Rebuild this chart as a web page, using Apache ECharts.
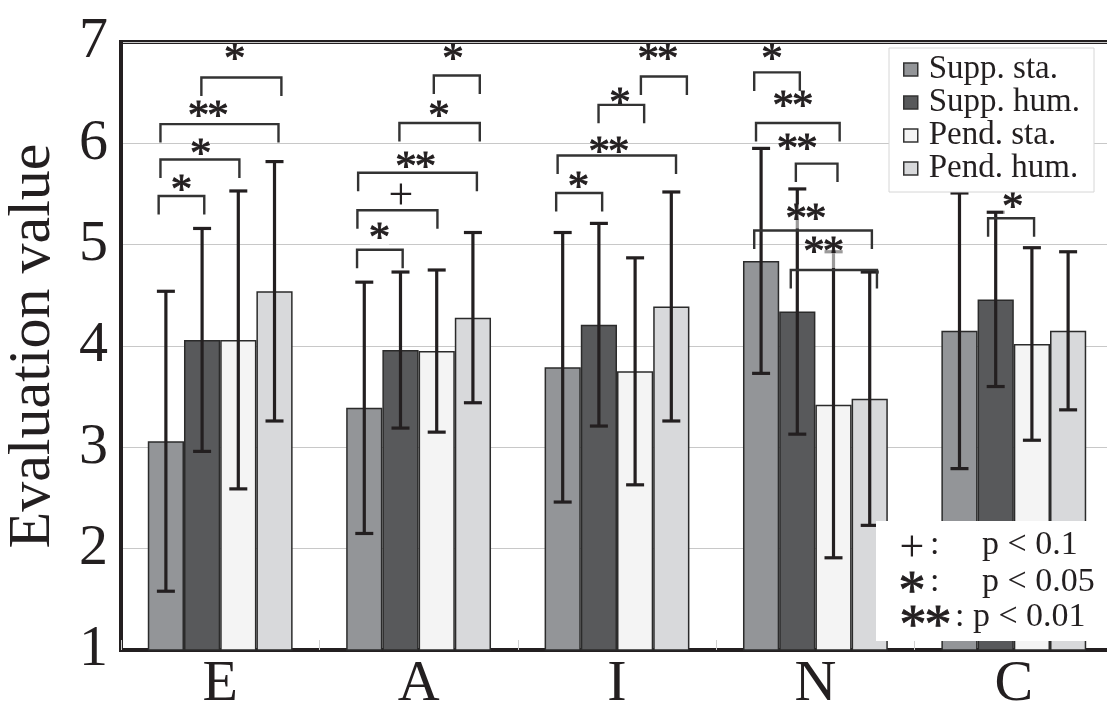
<!DOCTYPE html>
<html>
<head>
<meta charset="utf-8">
<title>Evaluation value</title>
<script src="https://cdn.jsdelivr.net/npm/echarts@6/dist/echarts.min.js"></script>
<style>
html, body { margin:0; padding:0; background:#fff; }
#chart { width:1107px; height:704px; }
</style>
</head>
<body>
<div id="chart"></div>
<script>
var categories = ['E', 'A', 'I', 'N', 'C'];
var seriesNames = ['Supp. sta.', 'Supp. hum.', 'Pend. sta.', 'Pend. hum.'];

// means
var suppSta = [3.06, 3.39, 3.79, 4.84, 4.15];
var suppHum = [4.06, 3.96, 4.21, 4.34, 4.46];
var pendSta = [4.06, 3.95, 3.75, 3.42, 4.02];
var pendHum = [4.54, 4.28, 4.39, 3.48, 4.15];

// standard deviations
var suppStaSd = [1.48, 1.24, 1.33, 1.11, 1.36];
var suppHumSd = [1.10, 0.77, 1.00, 1.21, 0.86];
var pendStaSd = [1.47, 0.80, 1.12, 1.51, 0.95];
var pendHumSd = [1.28, 0.84, 1.13, 1.25, 0.78];

var yMin = 1, yMax = 7, yStep = 1;

// significance brackets
// [category, from bar, to bar, bracket height, mark, mark pos, mark height]
var brackets = [
  [0, -0.20, 1.06, 5.48, '*',  0.43, 5.61],
  [0, -0.15, 2.03, 5.84, '*',  0.96, 5.96],
  [0, -0.15, 3.11, 6.19, '**', 1.17, 6.34],
  [0,  0.98, 3.19, 6.65, '*',  1.90, 6.90],
  [1, -0.20, 1.06, 4.95, '*',  0.42, 5.13],
  [1, -0.19, 2.02, 5.34, '+',  1.01, 5.51],
  [1, -0.17, 3.11, 5.71, '**', 1.42, 5.83],
  [1,  0.97, 3.19, 6.20, '*',  2.06, 6.34],
  [1,  1.92, 3.19, 6.67, '*',  2.45, 6.90],
  [2, -0.18, 1.09, 5.51, '*',  0.44, 5.64],
  [2, -0.14, 3.13, 5.88, '**', 1.28, 5.98],
  [2,  0.99, 2.25, 6.38, '*',  1.58, 6.47],
  [2,  2.16, 3.43, 6.66, '**', 2.63, 6.90],
  [3, -0.19, 1.07, 6.70, '*',  0.30, 6.90],
  [3, -0.14, 2.17, 6.20, '**', 0.88, 6.44],
  [3,  0.96, 2.11, 5.80, '**', 1.00, 6.01],
  [3, -0.19, 3.06, 5.14, '**', 1.24, 5.32],
  [3,  0.82, 3.20, 4.75, '**', 1.73, 5.00],
  [4,  0.79, 2.06, 5.26, '*',  1.47, 5.44]
];

var means = [suppSta, suppHum, pendSta, pendHum];
var sds = [suppStaSd, suppHumSd, pendStaSd, pendHumSd];
var colors = ['#939598', '#58595b', '#f4f4f4', '#d8d9db'];
var INK = '#231f20';
var SERIF = '"Liberation Serif", "Times New Roman", serif';
var CAT_GAP = 0.27;

function barOffset(api, pos) {
  var bw = api.size([1, 0])[0];
  return (pos - 1.5) * bw * (1 - CAT_GAP) / 4;
}

// one text per glyph so the star spacing can be tightened
function markTexts(mark, x, y, size, step, z) {
  var out = [];
  var n = mark.length;
  for (var k = 0; k < n; k++) {
    var ch = mark.charAt(k);
    var dy = ch === '+' ? 0.09 * size : 0.2 * size;
    out.push({
      type: 'text', x: x + (k - (n - 1) / 2) * step, y: y + dy, z: z,
      style: {
        text: ch, fontSize: size, fontFamily: SERIF, fill: INK,
        stroke: ch === '*' ? INK : null, lineWidth: 0.9,
        align: 'center', verticalAlign: 'middle'
      }
    });
  }
  return out;
}

var errData = [];
means.forEach(function (m, s) {
  m.forEach(function (v, c) {
    errData.push([c, s, v - sds[s][c], v + sds[s][c]]);
  });
});

var series = means.map(function (d, i) {
  return {
    name: seriesNames[i],
    type: 'bar',
    data: d,
    barGap: '0%',
    barCategoryGap: (CAT_GAP * 100) + '%',
    itemStyle: { color: colors[i], borderColor: '#2b2b2b', borderWidth: 1.5 },
    z: 2
  };
});

series.push({
  type: 'custom',
  data: errData,
  encode: { x: 0, y: [2, 3] },
  z: 3,
  silent: true,
  renderItem: function (params, api) {
    var c = api.value(0);
    var x = api.coord([c, 0])[0] + barOffset(api, api.value(1));
    var lo = api.coord([c, api.value(2)])[1];
    var hi = api.coord([c, api.value(3)])[1];
    var cap = 9;
    var st = { stroke: INK, lineWidth: 3.2 };
    return {
      type: 'group',
      children: [
        { type: 'line', shape: { x1: x, y1: hi, x2: x, y2: lo }, style: st },
        { type: 'line', shape: { x1: x - cap, y1: hi, x2: x + cap, y2: hi }, style: st },
        { type: 'line', shape: { x1: x - cap, y1: lo, x2: x + cap, y2: lo }, style: st }
      ]
    };
  }
});

series.push({
  type: 'custom',
  data: brackets.map(function (b) { return [b[0], b[1], b[2], b[3], b[5], b[6]]; }),
  encode: { x: 0, y: 3 },
  z: 4,
  silent: true,
  renderItem: function (params, api) {
    var c = api.value(0);
    var cx = api.coord([c, 0])[0];
    var x1 = cx + barOffset(api, api.value(1));
    var x2 = cx + barOffset(api, api.value(2));
    var y = api.coord([c, api.value(3)])[1];
    var lx = cx + barOffset(api, api.value(4));
    var ly = api.coord([c, api.value(5)])[1];
    var mark = brackets[params.dataIndex][4];
    var drop = 18.5;
    var w = mark.length * 19;
    var kids = [
      { type: 'polyline', shape: { points: [[x1, y + drop], [x1, y], [x2, y], [x2, y + drop]] },
        style: { stroke: '#333', lineWidth: 2.4, fill: null } },
      { type: 'rect', shape: { x: lx - w / 2, y: ly - 8, width: w, height: y - ly + 6 },
        style: { fill: 'rgba(255,255,255,0.55)' } }
    ];
    var size = mark === '+' ? 44 : 43;
    return { type: 'group', children: kids.concat(markTexts(mark, lx, ly, size, 19.5)) };
  }
});

var chart = echarts.init(document.getElementById('chart'), null, { renderer: 'canvas' });

var option = {
  animation: false,
  textStyle: { fontFamily: SERIF },
  grid: {
    left: 121, right: -6, top: 42, bottom: 54,
    outerBoundsMode: 'none',
    containLabel: false,
    show: true, borderColor: INK, borderWidth: 4, backgroundColor: 'transparent'
  },
  legend: {
    data: seriesNames,
    orient: 'vertical',
    left: 889, top: 48,
    padding: [5, 14, 7, 14],
    itemGap: 0,
    itemWidth: 14, itemHeight: 13,
    icon: 'rect',
    backgroundColor: '#fff',
    borderColor: '#d6d6d6', borderWidth: 1,
    textStyle: { fontFamily: SERIF, fontSize: 33, color: INK, lineHeight: 31, padding: [0, 0, 0, 6] },
    itemStyle: { borderColor: '#333', borderWidth: 1.5 },
    z: 10
  },
  xAxis: {
    type: 'category',
    data: categories,
    axisLine: { lineStyle: { color: INK, width: 4 } },
    axisTick: { show: true, inside: true, length: 10, lineStyle: { color: '#cfcfcf', width: 1 } },
    axisLabel: { fontFamily: SERIF, fontSize: 58, color: INK, margin: 6 },
    splitLine: { show: false }
  },
  yAxis: {
    type: 'value',
    min: yMin, max: yMax, interval: yStep,
    name: 'Evaluation value',
    nameLocation: 'middle',
    nameGap: 58,
    nameRotate: 90,
    nameTextStyle: { fontFamily: SERIF, fontSize: 60, color: INK },
    axisLine: { show: true, lineStyle: { color: INK, width: 4 } },
    axisTick: { show: false },
    axisLabel: { fontFamily: SERIF, fontSize: 58, color: INK, margin: 13 },
    splitLine: { lineStyle: { color: '#c8c8c8', width: 1.2 } }
  },
  graphic: [
    { type: 'rect', left: 876, top: 521, shape: { width: 240, height: 120 }, style: { fill: '#fff' }, z: 100 },
    { type: 'group', z: 101, children: []
      .concat(markTexts('+', 912, 545, 44, 0, 101))
      .concat(markTexts('*', 912, 583, 54, 0, 101))
      .concat(markTexts('**', 925.5, 617, 54, 25, 101)) },
    { type: 'text', x: 930, y: 545, z: 101,
      style: { text: ':', fontSize: 34, fontFamily: SERIF, fill: INK, align: 'left', verticalAlign: 'middle' } },
    { type: 'text', x: 930, y: 582, z: 101,
      style: { text: ':', fontSize: 34, fontFamily: SERIF, fill: INK, align: 'left', verticalAlign: 'middle' } },
    { type: 'text', x: 982, y: 545, z: 101,
      style: { text: 'p < 0.1', fontSize: 34, fontFamily: SERIF, fill: INK, align: 'left', verticalAlign: 'middle' } },
    { type: 'text', x: 982, y: 582, z: 101,
      style: { text: 'p < 0.05', fontSize: 34, fontFamily: SERIF, fill: INK, align: 'left', verticalAlign: 'middle' } },
    { type: 'text', x: 955, y: 617, z: 101,
      style: { text: ': p < 0.01', fontSize: 34, fontFamily: SERIF, fill: INK, align: 'left', verticalAlign: 'middle' } }
  ],
  series: series
};

chart.setOption(option);
</script>
</body>
</html>
